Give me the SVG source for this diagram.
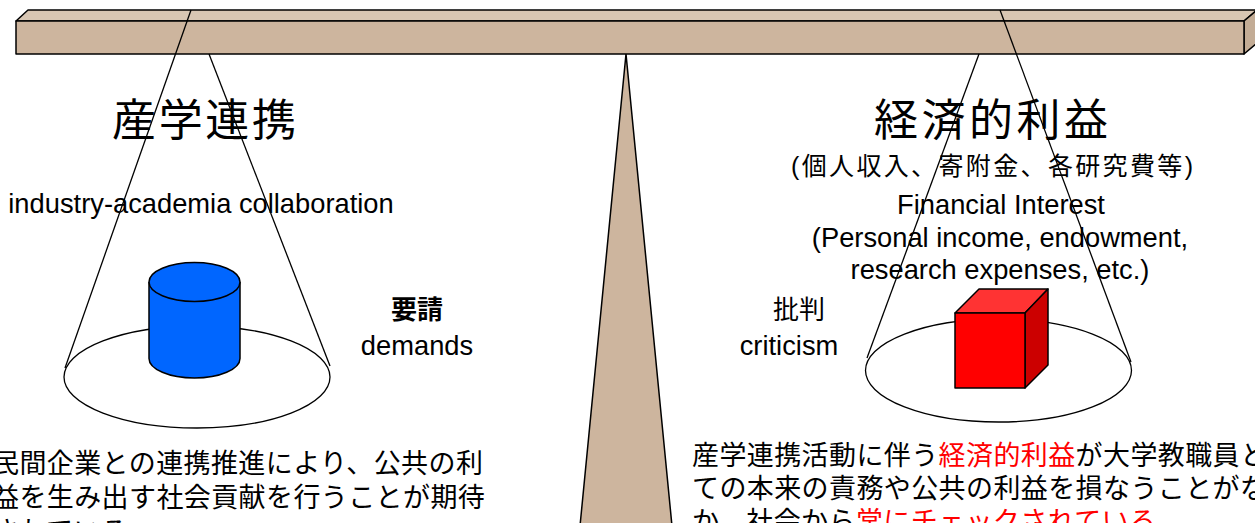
<svg xmlns="http://www.w3.org/2000/svg" width="1255" height="523" viewBox="0 0 1255 523">
  <style>
    .edge { stroke: #000; stroke-width: 1.3; fill: none; }
    .solid { stroke: #000; stroke-width: 1.5; stroke-linejoin: round; }
    .en { font-family: "Liberation Sans", Arial, "Noto Sans CJK JP", sans-serif; font-size: 27.3px; fill: #000; }
    .jp { font-family: "Liberation Sans", "Noto Sans CJK JP", sans-serif; fill: #000; }
    .body { font-family: "Noto Sans CJK JP", sans-serif; font-size: 27px; letter-spacing: 0.4px; fill: #000; }
    .red { fill: #ff0000; }
  </style>

  <!-- fulcrum -->
  <g id="fulcrum">
    <polygon class="solid" points="626,54 580,526 672,526" fill="#cdb59e"/>
  </g>

  <!-- balance beam -->
  <g id="beam">
    <polygon class="solid" points="16,21 28,10 1257,10 1244,21" fill="#d8c6b3"/>
    <polygon class="solid" points="1244,21 1257,10 1257,43 1244,54" fill="#c3ac95"/>
    <rect class="solid" x="16" y="21" width="1228" height="33" fill="#cdb59e"/>
  </g>

  <!-- left pan: industry-academia collaboration -->
  <g id="left-pan">
    <ellipse class="edge" cx="197" cy="377" rx="133" ry="51" fill="#fff"/>
    <path class="solid" d="M149,282 V358.5 A45.5,19.5 0 0 0 240,358.5 V282" fill="#0066ff"/>
    <ellipse class="solid" cx="194.5" cy="282" rx="45.5" ry="19.5" fill="#0066ff"/>
    <text class="jp" x="112" y="136" font-size="44" textLength="184" lengthAdjust="spacing">産学連携</text>
    <text class="en" x="201" y="213" text-anchor="middle">industry-academia collaboration</text>
  </g>

  <!-- right pan: financial interest -->
  <g id="right-pan">
    <ellipse class="edge" cx="998.5" cy="370.5" rx="133" ry="51.5" fill="#fff"/>
    <polygon class="solid" points="955,313 979,289 1048,289 1025,313" fill="#ff3333"/>
    <polygon class="solid" points="1025,313 1048,289 1048,365 1025,388" fill="#cc0000"/>
    <rect class="solid" x="955" y="313" width="70" height="75" fill="#ff0000"/>
    <text class="jp" x="874" y="136" font-size="44" textLength="234" lengthAdjust="spacing">経済的利益</text>
    <text class="jp" x="791" y="175" font-size="25" textLength="402" lengthAdjust="spacing">(個人収入、寄附金、各研究費等)</text>
    <text class="en" x="1001" y="214" text-anchor="middle">Financial Interest</text>
    <text class="en" x="1000" y="247" text-anchor="middle">(Personal income, endowment,</text>
    <text class="en" x="1000" y="279" text-anchor="middle">research expenses, etc.)</text>
  </g>

  <!-- side labels -->
  <g id="demands">
    <text class="jp" x="417" y="319" font-size="26" font-weight="bold" text-anchor="middle">要請</text>
    <text class="en" x="417" y="355" text-anchor="middle">demands</text>
  </g>
  <g id="criticism">
    <text class="jp" x="799" y="319" font-size="26" text-anchor="middle">批判</text>
    <text class="en" x="789" y="355" text-anchor="middle">criticism</text>
  </g>

  <!-- explanatory text -->
  <g id="left-note">
    <text class="body" x="-8" y="473">民間企業との連携推進により、公共の利</text>
    <text class="body" x="-8" y="507">益を生み出す社会貢献を行うことが期待</text>
    <text class="body" x="-8" y="541">されている</text>
  </g>
  <g id="right-note">
    <text class="body" x="692" y="465">産学連携活動に伴う<tspan class="red">経済的利益</tspan>が大学教職員と</text>
    <text class="body" x="692" y="498">ての本来の責務や公共の利益を損なうことがな</text>
    <text class="body" x="692" y="531">か、社会から<tspan class="red">常にチェックされている</tspan></text>
  </g>

  <!-- suspension lines from the beam to the pans -->
  <g id="connectors">
    <line class="edge" x1="191" y1="10" x2="65" y2="368"/>
    <line class="edge" x1="209" y1="54" x2="330" y2="366"/>
    <line class="edge" x1="979" y1="54" x2="867" y2="358"/>
    <line class="edge" x1="1000" y1="10" x2="1131" y2="362"/>
  </g>
</svg>
